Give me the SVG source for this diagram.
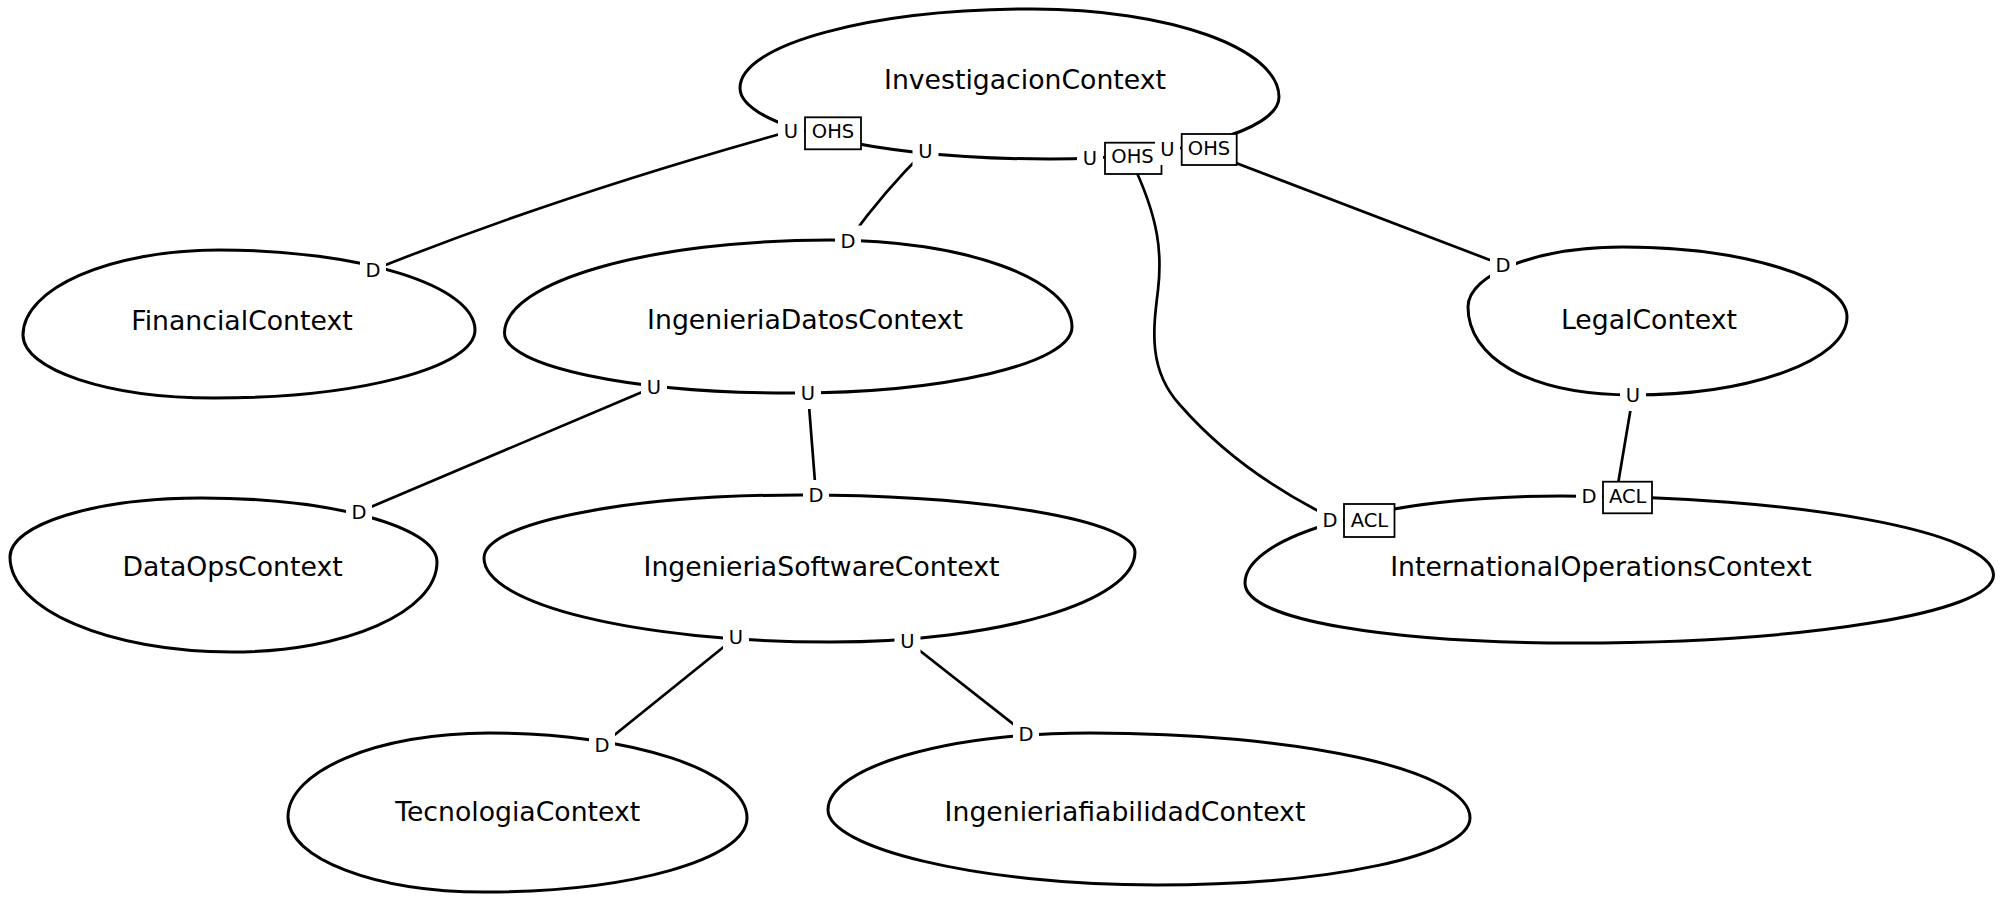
<svg xmlns="http://www.w3.org/2000/svg" width="2000" height="902" viewBox="0 0 2000 902">
<style>
.shape{fill:none;stroke:#000;stroke-width:3}
.title{font-family:"DejaVu Sans",sans-serif;font-size:26.7px;text-anchor:middle;fill:#000}
.edge{fill:none;stroke:#000;stroke-width:2.7}
.bg{fill:#fff;stroke:none}
.box{fill:#fff;stroke:#000;stroke-width:1.8}
.lbl{font-family:"DejaVu Sans",sans-serif;font-size:19.5px;text-anchor:middle;fill:#000}
</style>
<rect width="2000" height="902" fill="#fff"/>
<g id="nodes">
<g id="InvestigacionContext">
<path class="shape" d="M740,88 C740,44.4 871.2,9 1033,9 C1168.9,9 1279,48.4 1279,97 C1279,131.2 1176.5,159 1050,159 C878.8,159 740,127.2 740,88 Z"/>
<text class="title" x="1025" y="89.3">InvestigacionContext</text>
</g>
<g id="FinancialContext">
<path class="shape" d="M23,335 C23,288.1 110.7,250 219,250 C360.4,250 475,285.8 475,330 C475,367.6 358.2,398 214,398 C108.5,398 23,369.8 23,335 Z"/>
<text class="title" x="242" y="329.5">FinancialContext</text>
</g>
<g id="IngenieriaDatosContext">
<path class="shape" d="M504.5,333 C504.5,281.6 650.2,240 830,240 C963.7,240 1072,279 1072,327 C1072,363.5 945.7,393 790,393 C632.3,393 504.5,366.1 504.5,333 Z"/>
<text class="title" x="805" y="329.3">IngenieriaDatosContext</text>
</g>
<g id="LegalContext">
<path class="shape" d="M1468,307 C1468,273.9 1537.4,247 1623,247 C1741,247 1847,278.3 1847,317 C1847,360 1751,395 1633,395 C1526,395 1468,356 1468,307 Z"/>
<text class="title" x="1649" y="329.3">LegalContext</text>
</g>
<g id="DataOpsContext">
<path class="shape" d="M10,557 C10,524.4 95.5,498 201,498 C331.3,498 437,526.7 437,562 C437,611.7 346,652 232,652 C109,652 10,609.5 10,557 Z"/>
<text class="title" x="232.6" y="576">DataOpsContext</text>
</g>
<g id="IngenieriaSoftwareContext">
<path class="shape" d="M484,558 C484,523.2 625.5,495 800,495 C985,495 1135,520.5 1135,552 C1135,601.7 998.5,642 830,642 C638.9,642 484,604.4 484,558 Z"/>
<text class="title" x="821.5" y="576">IngenieriaSoftwareContext</text>
</g>
<g id="InternationalOperationsContext">
<path class="shape" d="M1245,583 C1245,535 1386,496 1560,496 C1799.7,496 1993.5,532 1993.5,575 C1993.5,612.6 1805.2,643 1574,643 C1392.3,643 1245,620.6 1245,583 Z"/>
<text class="title" x="1601" y="576">InternationalOperationsContext</text>
</g>
<g id="TecnologiaContext">
<path class="shape" d="M288,817 C288,770.6 378,733 489,733 C631.5,733 747,771.1 747,818 C747,858.9 630.8,892 484,892 C375.7,892 288,858.6 288,817 Z"/>
<text class="title" x="517.7" y="820.7">TecnologiaContext</text>
</g>
<g id="IngenieriafiabilidadContext">
<path class="shape" d="M828,810 C828,767.5 945.3,733 1090,733 C1299.9,733 1470,770 1470,818 C1470,855 1330,885 1157,885 C975,885 828,847 828,810 Z"/>
<text class="title" x="1125" y="820.7">IngenieriafiabilidadContext</text>
</g>
</g>
<g id="connectors">
<path class="edge" d="M791,131 Q560,195 373,270"/>
<path class="edge" d="M925,151 Q885,190 848,241"/>
<path class="edge" d="M1131,160 C1160,220 1162,255 1158,290 C1153,330 1148,370 1180,405 C1215,445 1260,482 1328,516"/>
<path class="edge" d="M1215,155 L1503,265"/>
<path class="edge" d="M654,387 L359,512"/>
<path class="edge" d="M808,393 L816,495"/>
<path class="edge" d="M736,637 L602,745"/>
<path class="edge" d="M907.5,641 L1026,734"/>
<path class="edge" d="M1633,395 L1617,490"/>
</g>
<g id="labels">
<g id="lbl-inv-1"><rect class="bg" x="778" y="116.3" width="26" height="31"/><text class="lbl" x="791" y="138.3">U</text><rect class="box" x="805" y="117.3" width="56" height="32"/><text class="lbl" x="833" y="138.3">OHS</text></g>
<g id="lbl-inv-2"><rect class="bg" x="912.5" y="136.3" width="26" height="31"/><text class="lbl" x="925.5" y="158.3">U</text></g>
<g id="lbl-inv-3"><rect class="bg" x="1077" y="143" width="26" height="31"/><text class="lbl" x="1090" y="165">U</text><rect class="box" x="1105" y="142.7" width="56.5" height="31.3"/><text class="lbl" x="1132.5" y="163.3">OHS</text></g>
<g id="lbl-inv-4"><rect class="bg" x="1155" y="134" width="25" height="31"/><text class="lbl" x="1167.5" y="156">U</text><rect class="box" x="1181.7" y="134" width="55" height="31"/><text class="lbl" x="1209" y="155">OHS</text></g>
<g id="lbl-fin"><rect class="bg" x="360" y="255" width="26" height="31"/><text class="lbl" x="373" y="277">D</text></g>
<g id="lbl-dat-d"><rect class="bg" x="835" y="225.5" width="26" height="31"/><text class="lbl" x="848" y="247.5">D</text></g>
<g id="lbl-dat-u1"><rect class="bg" x="641" y="372" width="26" height="31"/><text class="lbl" x="654" y="394">U</text></g>
<g id="lbl-dat-u2"><rect class="bg" x="795" y="378" width="26" height="31"/><text class="lbl" x="808" y="400">U</text></g>
<g id="lbl-ops"><rect class="bg" x="346" y="497" width="26" height="31"/><text class="lbl" x="359" y="519">D</text></g>
<g id="lbl-sw-d"><rect class="bg" x="803" y="480" width="26" height="31"/><text class="lbl" x="816" y="502">D</text></g>
<g id="lbl-sw-u1"><rect class="bg" x="723" y="622" width="26" height="31"/><text class="lbl" x="736" y="644">U</text></g>
<g id="lbl-sw-u2"><rect class="bg" x="894.5" y="626" width="26" height="31"/><text class="lbl" x="907.5" y="648">U</text></g>
<g id="lbl-tec"><rect class="bg" x="589" y="730" width="26" height="31"/><text class="lbl" x="602" y="752">D</text></g>
<g id="lbl-fia"><rect class="bg" x="1013" y="719" width="26" height="31"/><text class="lbl" x="1026" y="741">D</text></g>
<g id="lbl-leg-d"><rect class="bg" x="1490" y="250" width="26" height="31"/><text class="lbl" x="1503" y="272">D</text></g>
<g id="lbl-leg-u"><rect class="bg" x="1620" y="380" width="26" height="31"/><text class="lbl" x="1633" y="402">U</text></g>
<g id="lbl-int-1"><rect class="bg" x="1317" y="504.7" width="26" height="31"/><text class="lbl" x="1330" y="526.7">D</text><rect class="box" x="1344" y="504" width="50.5" height="33"/><text class="lbl" x="1369.5" y="526.7">ACL</text></g>
<g id="lbl-int-2"><rect class="bg" x="1576" y="481.3" width="26" height="31"/><text class="lbl" x="1589" y="503.3">D</text><rect class="box" x="1603" y="481.7" width="49" height="31.6"/><text class="lbl" x="1627.7" y="503.3">ACL</text></g>
</g>
</svg>
